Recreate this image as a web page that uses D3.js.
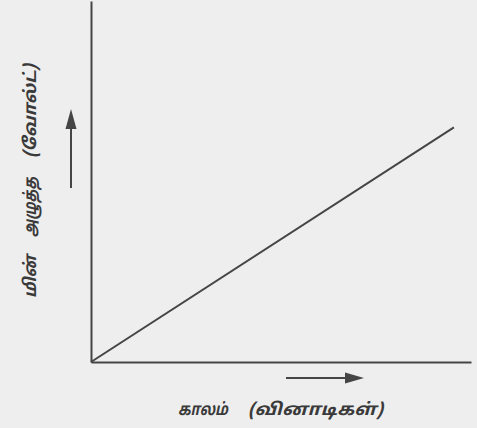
<!DOCTYPE html>
<html><head><meta charset="utf-8">
<script src="https://cdn.jsdelivr.net/npm/d3@7"></script>
<style>
html,body{margin:0;padding:0;background:#eeeeee;}
svg{display:block;}
</style></head>
<body>
<script>
const timeValues = [0, 9.55];
const voltageValues = [0, 6.5];
const xLabel = "காலம் (வினாடிகள்)";
const yLabel = "மின் அழுத்த (வோல்ட்)";

const W = 477, H = 428;
const ink = "#454545";
const fontFam = "'Noto Sans Tamil','Lohit Tamil','Noto Sans','DejaVu Sans',sans-serif";
const svg = d3.select("body").append("svg").attr("width", W).attr("height", H);
svg.append("rect").attr("width", W).attr("height", H).attr("fill", "#eeeeee");

const x = d3.scaleLinear().domain([0, 10]).range([91, 471]);
const y = d3.scaleLinear().domain([0, 10]).range([362, 1]);

// axes as plain lines (no ticks)
const xAxis = d3.axisBottom(x).tickValues([]).tickSizeOuter(0);
const yAxis = d3.axisLeft(y).tickValues([]).tickSizeOuter(0);
const gx = svg.append("g").attr("transform", `translate(0,${y(0)})`).call(xAxis);
const gy = svg.append("g").attr("transform", `translate(${x(0)},0)`).call(yAxis);
[gx, gy].forEach(g => g.select(".domain").attr("stroke", ink).attr("stroke-width", 2));

// data line
const pts = timeValues.map((t, i) => [t, voltageValues[i]]);
svg.append("path").datum(pts)
  .attr("d", d3.line().x(d => x(d[0])).y(d => y(d[1])))
  .attr("fill", "none").attr("stroke", ink).attr("stroke-width", 2);

// direction arrows
function arrow(x1, y1, x2, y2, headLen, headW) {
  const dx = x2 - x1, dy = y2 - y1, L = Math.hypot(dx, dy);
  const ux = dx / L, uy = dy / L;
  const bx = x2 - ux * headLen, by = y2 - uy * headLen;
  svg.append("line").attr("x1", x1).attr("y1", y1).attr("x2", bx).attr("y2", by)
    .attr("stroke", ink).attr("stroke-width", 2);
  svg.append("path")
    .attr("d", `M${x2},${y2}L${bx - uy * headW / 2},${by + ux * headW / 2}L${bx + uy * headW / 2},${by - ux * headW / 2}Z`)
    .attr("fill", ink);
}
arrow(71, 188, 71, 109, 20, 11);
arrow(286, 378, 364, 378, 19, 11);

// labels, word by word (start offset, width) along the reading direction
function wordLabel(g, text, spans) {
  text.split(" ").forEach((w, i) => {
    g.append("text").text(w)
      .attr("x", spans[i][0]).attr("y", 0)
      .attr("font-family", fontFam).attr("font-size", 17).attr("font-style", "italic")
      .attr("font-weight", "bold").attr("fill", "#3a3a3a")
      .attr("textLength", spans[i][1]).attr("lengthAdjust", "spacingAndGlyphs");
  });
}
const gxl = svg.append("g").attr("transform", "translate(178,415)");
wordLabel(gxl, xLabel, [[0, 50], [70, 135]]);
const gyl = svg.append("g").attr("transform", "translate(36,298) rotate(-90)");
wordLabel(gyl, yLabel, [[0, 43], [61, 60], [140, 94]]);
</script>
</body></html>
